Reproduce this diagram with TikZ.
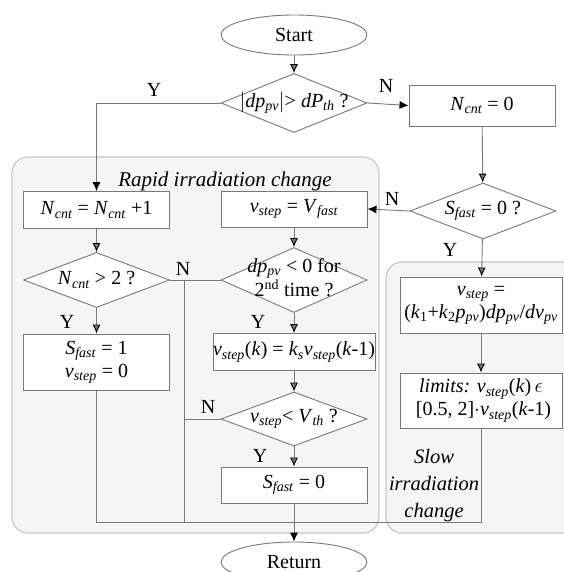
\documentclass[tikz,border=0pt]{standalone}
\usepackage{fontspec}
\setmainfont{Liberation Serif}
\usetikzlibrary{shapes.geometric,arrows.meta}
\newcommand{\tvar}[2]{\textit{#1}\textsubscript{\textit{#2}}}
\definecolor{linegray}{RGB}{120,120,120}
\definecolor{zonefill}{RGB}{245,245,245}
\definecolor{zoneline}{RGB}{200,200,200}
\tikzset{
  flow/.style={draw=linegray,line width=0.9pt,fill=white,minimum width=146pt,
    font=\fontsize{20}{23}\selectfont},
  term/.style={flow,ellipse,minimum height=40pt,inner sep=0pt},
  proc/.style={flow,rectangle,align=center,inner sep=2pt},
  test/.style={flow,diamond,inner sep=0pt},
  zone/.style={draw=zoneline,fill=zonefill,line width=1.2pt,rounded corners=16pt},
  yn/.style={font=\fontsize{20}{23}\selectfont},
  wire/.style={color=linegray,line width=0.9pt}
}

\begin{document}
\begin{tikzpicture}[x=1pt,y=1pt,>={Latex[black,length=9pt,width=8pt]}]
  \useasboundingbox (0,0) rectangle (563,-572);
  % shaded zones
  \draw[zone] (12,-157) rectangle (379,-533);
  \draw[zone] (386,-262) rectangle (580,-533);
  \node[yn,font=\fontsize{21}{23}\selectfont\itshape] (tr) at (225,-181) {Rapid irradiation change};
  \node[yn,align=center,font=\fontsize{20.5}{27}\selectfont\itshape] (ts) at (434,-486)
    {Slow\\irradiation\\change};

  \node[term] (st) at (294,-35) {Start};
  \node[test,minimum height=59pt] (d1) at (294,-103) {
    \makebox[0pt]{$|$\tvar{dp}{pv}$|$> \tvar{dP}{th} ?}};
  \node[proc,minimum height=41pt] (n0) at (482,-105.5) {\tvar{N}{cnt} = 0};
  \node[test,minimum height=56pt] (d2) at (483,-211) {
    \makebox[0pt]{\tvar{S}{fast} = 0 ?}};
  \node[proc,minimum height=37pt] (b1) at (96.5,-210) {\tvar{N}{cnt} = \tvar{N}{cnt} +1};
  \node[proc,minimum height=36pt] (b2) at (294,-209) {\tvar{v}{step} = \tvar{V}{fast}};
  \node[test,minimum height=55pt] (d3) at (96.5,-280) {
    \makebox[0pt]{\tvar{N}{cnt} > 2 ?}};
  \node[test,minimum height=65pt] (d4) at (294,-280) {
    \makebox[0pt]{\begin{tabular}{@{}c@{}}\tvar{dp}{pv} < 0 for\\
      2\textsuperscript{nd} time ?\end{tabular}}};
  \node[proc,minimum height=56pt] (b3) at (96.5,-362) {
    \tvar{S}{fast} = 1\\\tvar{v}{step} = 0};
  \node[proc,minimum height=37pt,inner sep=0pt] (b4) at (294,-352) {
    \tvar{v}{step}(\textit{k}) = \textit{k}\textsubscript{\textit{s}}\tvar{v}{step}(\textit{k}-1)};
  \node[proc,minimum width=162pt,minimum height=56pt,inner sep=0pt] (b5) at (481,-305) {
    \tvar{v}{step} =\\
    (\textit{k}\textsubscript{1}+\textit{k}\textsubscript{2}\tvar{p}{pv})\tvar{dp}{pv}/\tvar{dv}{pv}};
  \node[proc,minimum width=162pt,minimum height=55pt,inner sep=0pt] (b6) at (481,-400.5) {
    \textit{limits:} \tvar{v}{step}(\textit{k})\,$\epsilon$\\{}
    [0.5, 2]$\cdot$\tvar{v}{step}(\textit{k}-1)};
  \node[test,minimum height=54pt] (d5) at (294,-419) {
    \makebox[0pt]{\tvar{v}{step}< \tvar{V}{th} ?}};
  \node[proc,minimum height=36pt] (b7) at (294,-485) {\tvar{S}{fast} = 0};
  \node[term] (rt) at (294,-562) {Return};

  \coordinate (jn) at (184,-280);
  \coordinate (mrg) at (294,-522);

  % yes / no marks
  \node[yn] (y1) at (154,-90) {Y};
  \node[yn] (n1) at (386,-86) {N};
  \node[yn] (n2) at (392,-199) {N};
  \node[yn] (y2) at (450,-250) {Y};
  \node[yn] (y3) at (67,-322) {Y};
  \node[yn] (n3) at (183,-269) {N};
  \node[yn] (y4) at (258,-322) {Y};
  \node[yn] (n4) at (208,-407) {N};
  \node[yn] (y5) at (260,-456) {Y};

  \path[wire,->] (st) edge (d1) (n0) edge (d2) (b1) edge (d3) (b2) edge (d4);
  \path[wire,->] (d3) edge (b3) (d4) edge (b4) (b4) edge (d5) (d5) edge (b7);
  \path[wire,->] (d2) edge (b5) (b5) edge (b6);
  \draw[wire,->] (d1.west) -| (b1.north);
  \draw[wire,->] (d1.east) -- (n0.west);
  \draw[wire,->] (d2.west) -- (b2.east);
  \draw[wire] (d3.east) -- (d4.west);
  \draw[wire] (jn) -- (jn |- mrg);
  \draw[wire] (d5.west) -- (d5.west -| jn);
  \draw[wire] (b3.south) |- (mrg);
  \draw[wire] (b6.south) |- (mrg);
  \draw[wire,->] (b7.south) -- (rt.north);
\end{tikzpicture}
\end{document}
